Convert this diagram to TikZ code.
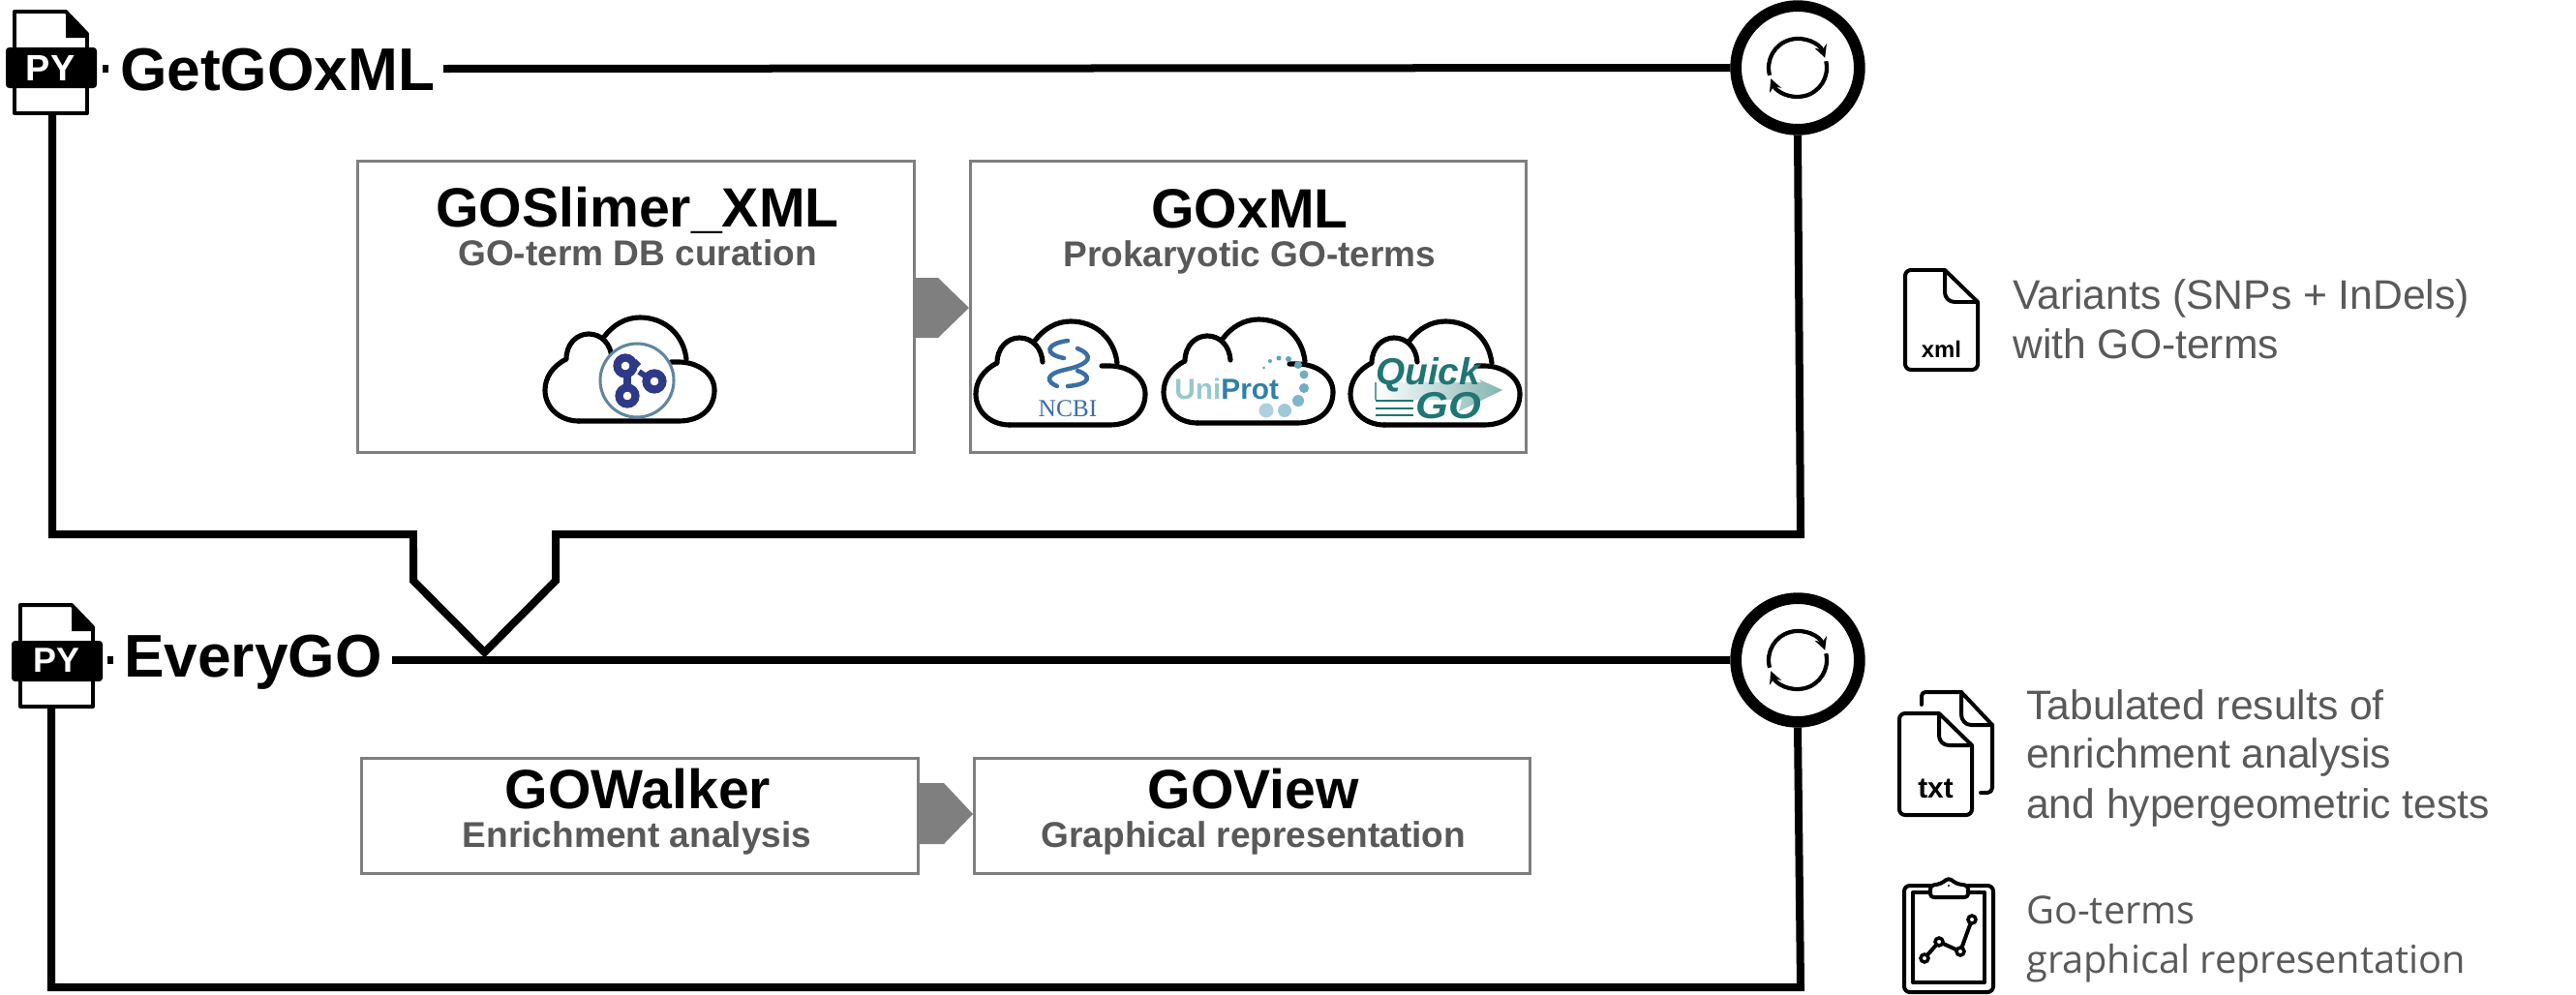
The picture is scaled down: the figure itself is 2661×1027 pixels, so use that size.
\documentclass[tikz,border=0pt]{standalone}
\usepackage{fontspec}
\usepackage{graphicx}
\setmainfont{Liberation Sans}
\newfontfamily\opensans{Open Sans}
\newfontfamily\lserif{Liberation Serif}
\usetikzlibrary{arrows.meta,calc}
\definecolor{subgrey}{HTML}{595959}
\definecolor{boxgrey}{HTML}{7F7F7F}
\definecolor{txtgrey}{HTML}{595959}
\definecolor{gonavy}{HTML}{2E3A87}
\definecolor{goring}{HTML}{5F86A0}
\definecolor{ncbiblue}{HTML}{3A6EA5}
\definecolor{unilight}{HTML}{97C9C9}
\definecolor{uniblue}{HTML}{2F7FA8}
\definecolor{unidot}{HTML}{5FA3BE}
\definecolor{qgteal}{HTML}{1F7672}
\newcommand{\fs}[1]{\fontsize{\dimexpr #1pt*85/100\relax}{\dimexpr #1pt*85/100\relax}\selectfont}
\tikzset{
  x=0.03cm,y=-0.03cm,
  frameline/.style={line width=6.83pt,draw=black,line join=miter},
  boxnode/.style={draw=boxgrey,line width=2.9pt,fill=white,anchor=north west,inner sep=0pt},
  titletext/.style={font=\fs{57.4}\bfseries,anchor=base,inner sep=0pt},
  subtext/.style={font=\fs{37.2}\bfseries,text=subgrey,anchor=base,inner sep=0pt},
  sidetext/.style={font=\fs{42.8},text=txtgrey,anchor=base west,inner sep=0pt},
  sidetextb/.style={font=\opensans\fs{39.9},text=txtgrey,anchor=base west,inner sep=0pt},
  headtext/.style={font=\fs{62.5}\bfseries,anchor=base west,inner sep=0pt},
  cycnode/.style={circle,draw=black,line width=10pt,fill=white,minimum size=109pt,inner sep=0pt},
  greyarrow/.style={fill=boxgrey,draw=none},
  clouddraw/.style={line width=4.4pt,line cap=round,line join=round},
  icon/.style={line width=3.4pt,line join=round,line cap=round},
  pics/cloudicon/.style={code={
    \draw[clouddraw] (37,107) -- (140,107) .. controls (165,107) and (177,92) .. (177,75) .. controls (177,58) and (160,46) .. (140,46) -- (132,46);
    \draw[clouddraw] (148,43) .. controls (145,17) and (125,0) .. (100,0) .. controls (85,0) and (72,8) .. (63,20);
    \draw[clouddraw] (71,42) .. controls (70,27) and (60,17) .. (47,17) .. controls (35,17) and (24,27) .. (24,43) .. controls (10,50) and (2,62) .. (2,75) .. controls (2,93) and (17,107) .. (37,107);
  }},
  pics/pyfile/.style={code={
    \draw[line width=3.4pt,line join=round,fill=white] (0,0) -- (53,0) -- (75,23) -- (75,105) -- (0,105) -- cycle;
    \fill[black] (53,0) -- (75,23) -- (75,27) -- (53,27) -- cycle;
    \fill[black,rounded corners=3pt] (-9,37) rectangle (85,79);
  }},
  pics/refresh/.style={code={
    \draw[line width=3.6pt,-{Stealth[length=11pt,width=11pt]}] (165:30) arc[start angle=165,end angle=340,radius=30];
    \draw[line width=3.6pt,-{Stealth[length=11pt,width=11pt]}] (-13:30) arc[start angle=-13,end angle=158,radius=30];
  }},
}
\begin{document}
\begin{tikzpicture}
\useasboundingbox (0,0) rectangle (2661,1027);
% --- frames
\coordinate (f1bl) at (54,552);
\coordinate (f1br) at (1860,552);
\coordinate (f2bl) at (53,1020);
\coordinate (f2br) at (1860,1020);
\node[cycnode] (cyc1) at (1857,70) {};
\node[cycnode] (cyc2) at (1857,682) {};
\coordinate (py1b) at (54,117);
\coordinate (py2b) at (53,729);
\draw[frameline] (py1b) -- (f1bl) -- (f1br) -- (cyc1.south);
\draw[frameline] (py2b) -- (f2bl) -- (f2br) -- (cyc2.south);
% --- hollow arrow between the frames
\coordinate (ha) at (427,552);
\coordinate (hb) at (427,600);
\coordinate (hc) at (500.5,674);
\coordinate (hd) at (574,600);
\coordinate (he) at (574,552);
% --- headings
\node[headtext] (head1) at (124,93) {GetGOxML};
\node[headtext] (head2) at (128,699) {EveryGO};
\coordinate (l1s) at (458,71);
\coordinate (l2s) at (405,682);
\draw[frameline] (l1s) -- (cyc1.west);
\draw[frameline] (l2s) -- (cyc2.west);
\draw[frameline] (ha) -- (hb) -- (hc) -- (hd) -- (he);
\fill[white] (431,547) rectangle (570,566);
\pic at (1857,70) {refresh};
\pic at (1857,682) {refresh};
% --- python icons
\pic at (15,12) {pyfile};
\node[font=\fs{38}\bfseries,text=white,inner sep=0pt] (pytxt1) at (52,70) {PY};
\draw[line width=6.8pt] (106,71) -- (112,71);
\pic at (21,625) {pyfile};
\node[font=\fs{36}\bfseries,text=white,inner sep=0pt] (pytxt2) at (58,682) {PY};
\draw[line width=6.8pt] (111,682) -- (117,682);
% --- boxes
\node[boxnode,minimum width=577*0.85pt,minimum height=302*0.85pt] (b1) at (368,165) {};
\node[boxnode,minimum width=576*0.85pt,minimum height=302*0.85pt] (b2) at (1001,165) {};
\node[boxnode,minimum width=577*0.85pt,minimum height=119*0.85pt] (b3) at (372,782) {};
\node[boxnode,minimum width=576*0.85pt,minimum height=119*0.85pt] (b4) at (1005,782) {};
\node[titletext] (t1) at (658.5,234) {GOSlimer\_XML};
\node[subtext] (s1) at (658.5,274) {GO-term DB curation};
\node[titletext] (t2) at (1291,235) {GOxML};
\node[subtext] (s2) at (1291,275) {Prokaryotic GO-terms};
\node[titletext] (t3) at (659,835) {GOWalker};
\node[subtext] (s3) at (658,875) {Enrichment analysis};
\node[titletext] (t4) at (1295,835) {GOView};
\node[subtext] (s4) at (1295,875) {Graphical representation};
% --- grey arrows
\fill[greyarrow] (b1.east|-0,287) -- (969,287) -- (1001,318) -- (969,349) -- (b1.east|-0,349) -- cycle;
\fill[greyarrow] (b3.east|-0,809) -- (975,809) -- (1005,841) -- (975,872) -- (b3.east|-0,872) -- cycle;
% --- clouds
\pic at (561,328) {cloudicon};
\pic at (1006,332) {cloudicon};
\pic at (1200,330) {cloudicon};
\pic at (1393,332) {cloudicon};
% GO logo
\filldraw[fill=white,draw=goring,line width=2.6pt] (658,393) circle (38);
\draw[gonavy,line width=7pt] (646,378) circle (8.5);
\draw[gonavy,line width=7pt] (648,409) circle (8.5);
\draw[gonavy,line width=7pt] (676,394) circle (8.5);
\draw[gonavy,line width=7pt] (648,388) -- (648,401);
\draw[gonavy,line width=5pt] (660,378) -- (655,373);
\draw[gonavy,line width=5pt] (666,388) -- (660,384);
% NCBI logo
\node[font=\lserif\fs{25.5},text=ncbiblue,anchor=base,inner sep=0pt] (ncbi) at (1103,430) {NCBI};
\draw[ncbiblue,line width=3.8pt,line cap=round] (1103,352) .. controls (1080,355) and (1078,366) .. (1099,370);
\draw[ncbiblue,line width=3.8pt,line cap=round] (1113,360) .. controls (1130,367) and (1128,376) .. (1100,382) .. controls (1078,387) and (1082,395) .. (1092,399);
\draw[ncbiblue,line width=3.8pt,line cap=round] (1103,399) .. controls (1127,397) and (1128,388) .. (1113,383);
% UniProt logo
\node[font=\fs{30}\bfseries,anchor=base west,inner sep=0pt] (unip) at (1213,412) {\textcolor{unilight}{Uni}\textcolor{uniblue}{Prot}};
\foreach \px/\py/\pr/\pc in {1305.5/380/1.5/100,1312/373/2/100,1321/370/2.5/100,1331/371/3/100,1341/377/4/100,1347/387/4.5/90,1347/401/5/90,1341/414/6/80,1327/424/7/60,1308/424/7.5/50}
  \fill[unidot!\pc!white] (\px,\py) circle (\pr);
% QuickGO logo
\shade[left color=white,right color=qgteal!55,shading angle=90] (1421,395) -- (1530,395) -- (1528,392) -- (1552,403) -- (1507,425) -- (1510,413) -- (1421,413) -- cycle;
\draw[qgteal!70,line width=1pt] (1421,395) -- (1421,413);
\draw[qgteal,line width=1.8pt] (1421,414) -- (1460,414) (1421,422) -- (1460,422) (1421,429) -- (1460,429);
\node[font=\fs{39}\bfseries\itshape,text=qgteal,anchor=base west,inner sep=0pt] (quick) at (1421,397) {Quick};
\node[font=\fs{39}\bfseries\itshape,text=qgteal,anchor=base west,inner sep=0pt] (gotxt) at (1462,432) {\scalebox{1.12}[1]{GO}};
% --- side icons
\draw[icon] (2009,279) -- (1974,279) to[out=180,in=90] (1968,285) -- (1968,376) to[out=-90,in=180] (1974,382) -- (2037,382) to[out=0,in=-90] (2043,376) -- (2043,312) -- (2009,279) -- (2009,302) to[out=-90,in=180] (2019,312) -- (2043,312);
\node[font=\fs{24}\bfseries,anchor=base,inner sep=0pt] (xml) at (2005.5,369) {xml};
\draw[icon] (2003,737) -- (1968,737) to[out=180,in=90] (1962,743) -- (1962,836) to[out=-90,in=180] (1968,842) -- (2031,842) to[out=0,in=-90] (2037,836) -- (2037,770) -- (2003,737) -- (2003,760) to[out=-90,in=180] (2013,770) -- (2037,770);
\draw[icon] (1985,728) -- (1985,719) to[out=90,in=180] (1989,715) -- (2026,715) -- (2058,749) -- (2058,814) to[out=-90,in=0] (2053,819) -- (2046,819);
\draw[icon] (2026,715) -- (2026,738) to[out=-90,in=180] (2036,749) -- (2058,749);
\node[font=\fs{30}\bfseries,anchor=base,inner sep=0pt] (txt) at (1999.5,824) {txt};
\draw[icon,rounded corners=5pt] (1994,915) -- (1967,915) -- (1967,1025) -- (2059,1025) -- (2059,915) -- (2033,915);
\draw[icon] (1994,922) -- (1976,922) -- (1976,1015) -- (2050,1015) -- (2050,922) -- (2033,922);
\draw[icon,rounded corners=3pt] (1994,927) -- (1994,915) -- (2005,913) -- (2013,907) -- (2021,913) -- (2033,915) -- (2033,927) -- cycle;
\fill (2013,915) circle (1.2);
\draw[icon] (1988,990) -- (2003,973) -- (2025,983) -- (2037,950);
\foreach \qx/\qy in {1988/990,2003/973,2025/983,2037/950}
  \filldraw[fill=white,line width=3pt] (\qx,\qy) circle (4);
% --- side text
\node[sidetext] (v1) at (2079,319) {Variants (SNPs + InDels)};
\node[sidetext] (v2) at (2079,370) {with GO-terms};
\node[sidetext] (r1) at (2093,743) {Tabulated results of};
\node[sidetext] (r2) at (2093,793) {enrichment analysis};
\node[sidetext] (r3) at (2093,845) {and hypergeometric tests};
\node[sidetextb] (g1) at (2093,954) {Go-terms};
\node[sidetextb] (g2) at (2093,1005) {graphical representation};
\end{tikzpicture}
\end{document}
